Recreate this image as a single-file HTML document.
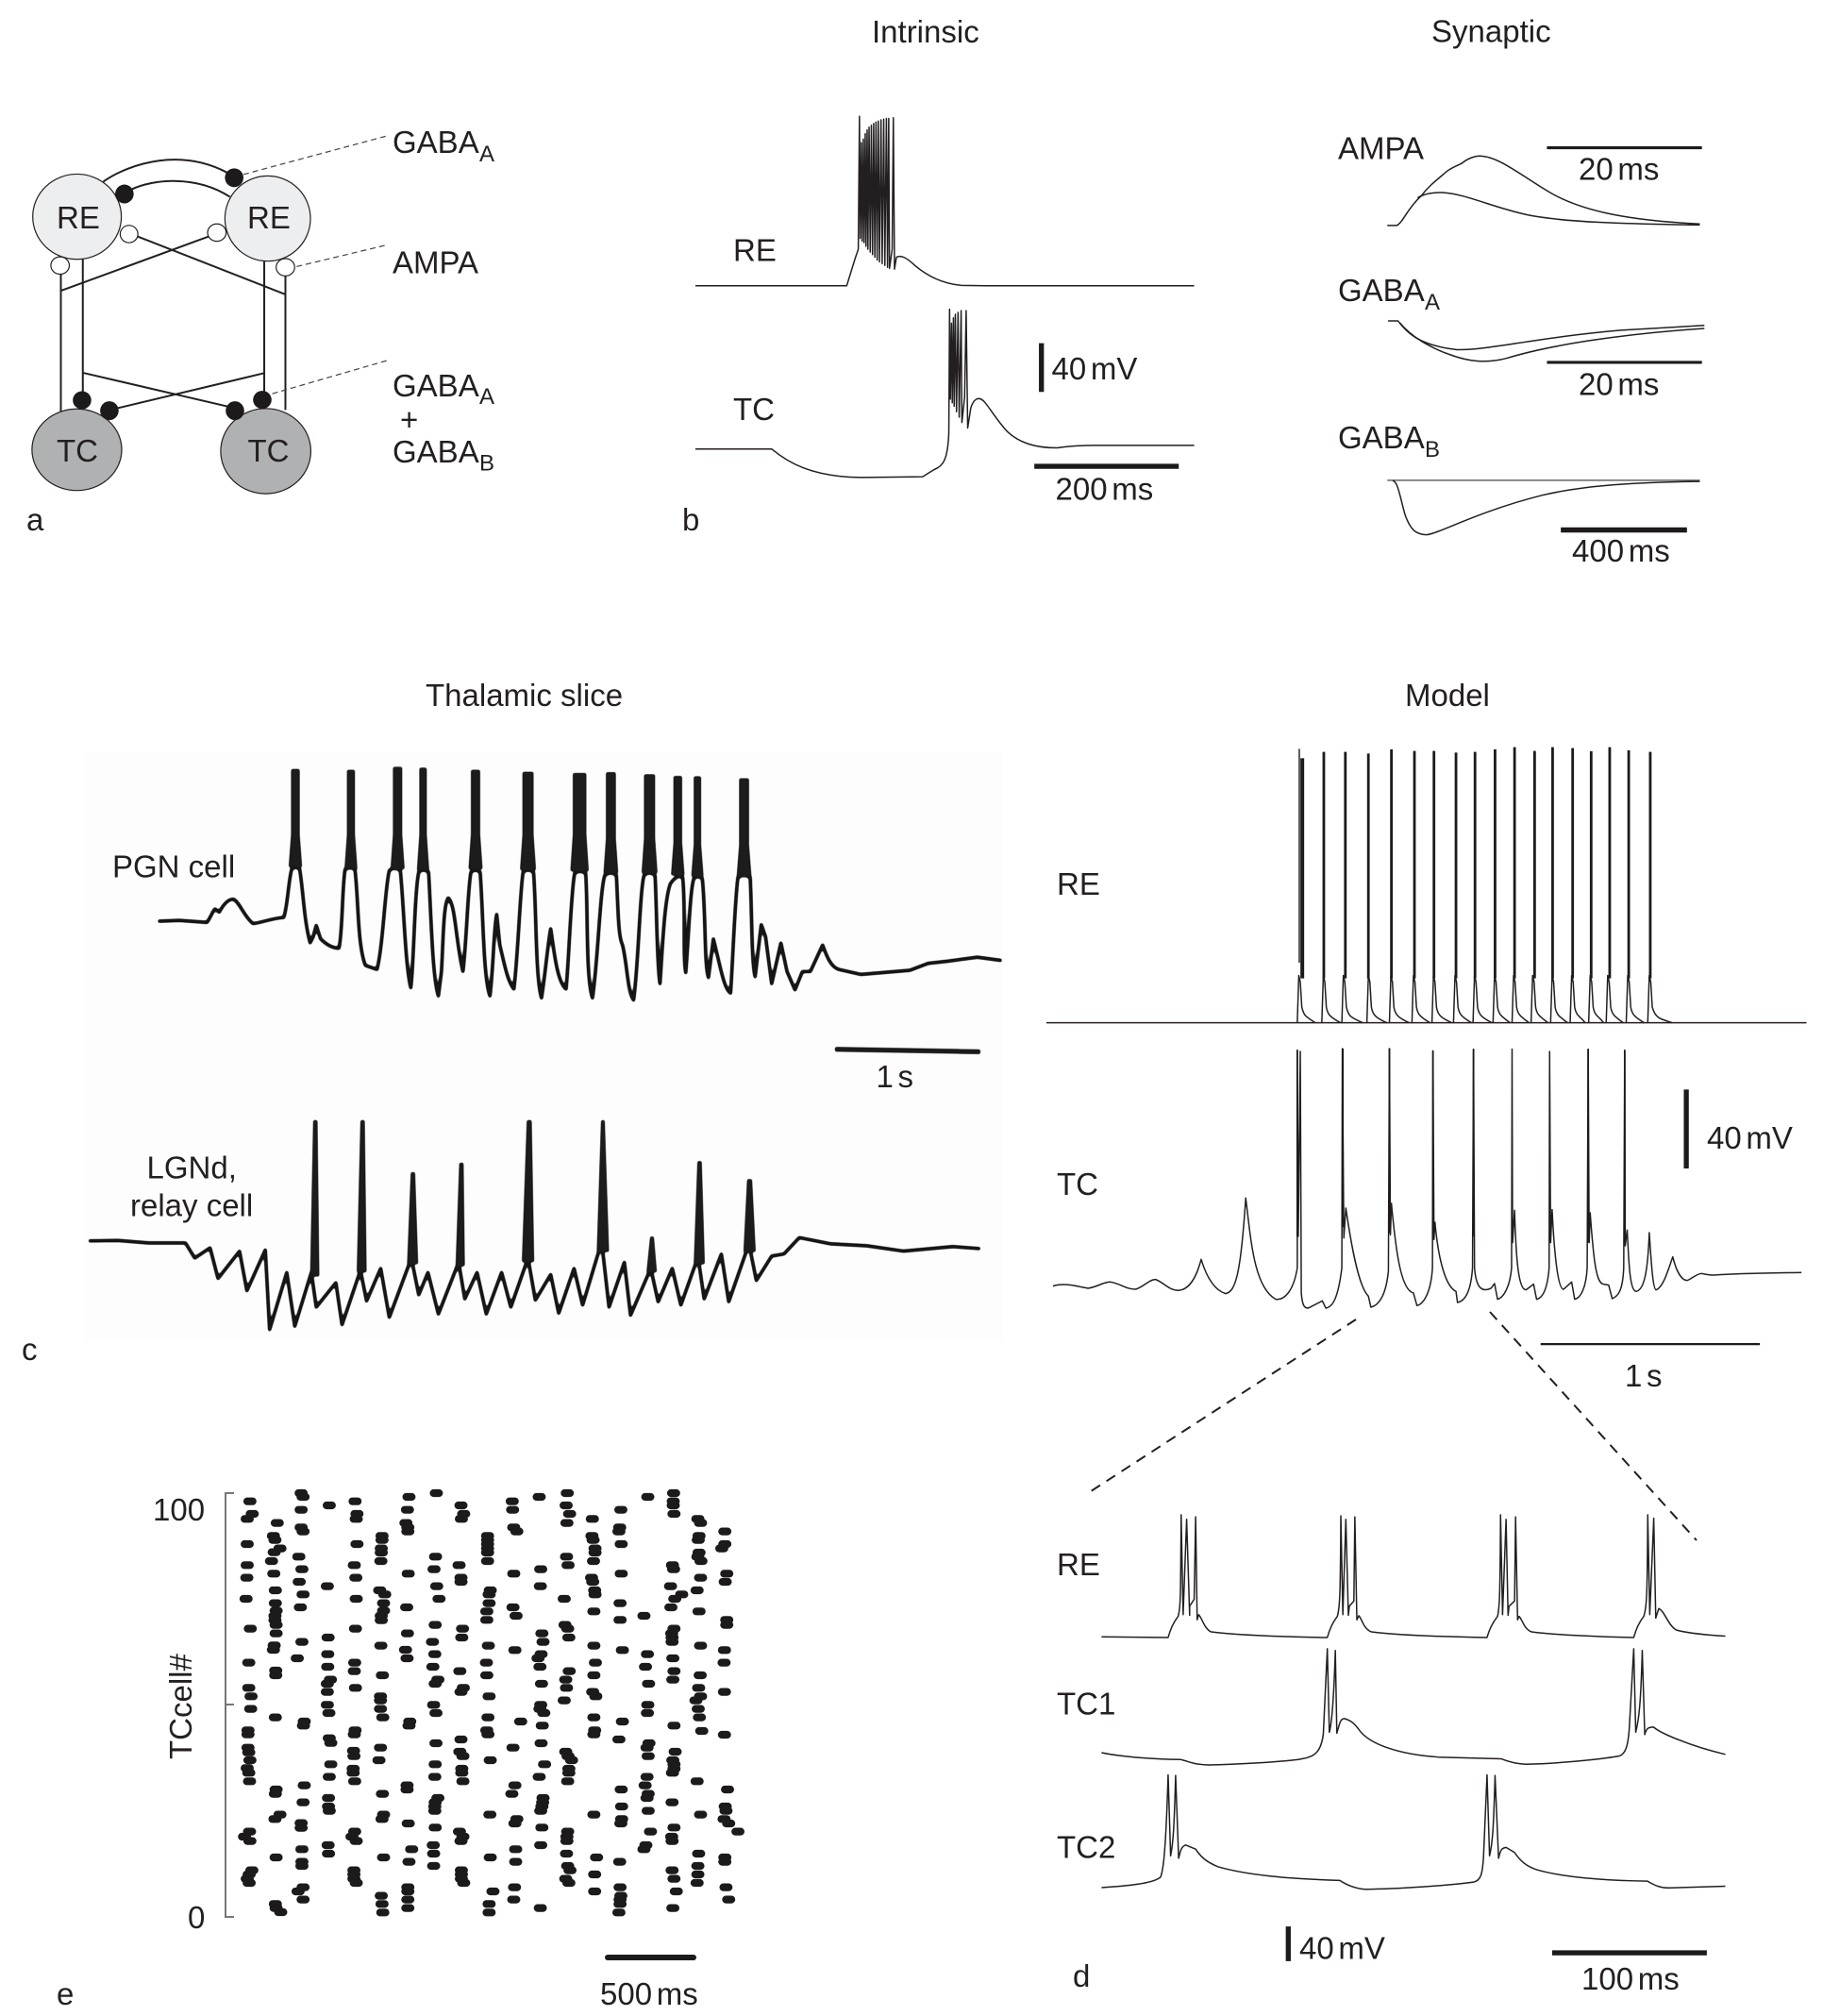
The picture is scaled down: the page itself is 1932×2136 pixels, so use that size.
<!DOCTYPE html>
<html><head><meta charset="utf-8"><title>Thalamic oscillation figure</title>
<style>
html,body{margin:0;padding:0;background:#fff}
svg{display:block}
text{font-family:"Liberation Sans",sans-serif;font-size:33px;fill:#231f20;word-spacing:-4.5px}
text.s{font-size:24px}
text.w{word-spacing:0}
path,line,ellipse{vector-effect:non-scaling-stroke}
.t{fill:none;stroke:#231f20;stroke-width:1.5;stroke-linejoin:round}
.k{fill:#1c1a1b;stroke:none}
.l{fill:none;stroke:#231f20;stroke-width:2}
.d{fill:none;stroke:#444;stroke-width:1.2;stroke-dasharray:6 4}
.r{fill:none;stroke:#1c1a1b;stroke-width:8.2;stroke-linecap:round}
</style></head><body>
<svg xmlns="http://www.w3.org/2000/svg" width="1932" height="2136" viewBox="0 0 1932 2136">
<defs><filter id="ink" x="-2%" y="-2%" width="104%" height="104%"><feGaussianBlur stdDeviation="1"/><feComponentTransfer><feFuncA type="linear" slope="3" intercept="-0.9"/></feComponentTransfer></filter></defs>
<rect width="1932" height="2136" fill="#fff"/>

<!-- panel a -->
<g transform="translate(0,0) scale(.4082,.3827)">
<path class="l" d="M268 503C340 450 470 410 590 478M340 525C400 495 510 485 597 545M158 758V1140M215 718V1085M686 724V1085M741 763V1135M358 655L741 815M541 655L158 805M215 1032L590 1125M686 1033L305 1130"/>
<path class="d" d="M632 483L1002 377M770 738L1005 678M707 1090L1005 998"/>
<ellipse cx="200" cy="600" rx="115" ry="118" fill="#eceef0" stroke="#231f20" stroke-width="1.2"/>
<ellipse cx="695" cy="605" rx="111" ry="118" fill="#eceef0" stroke="#231f20" stroke-width="1.2"/>
<ellipse cx="199.5" cy="1245" rx="116.5" ry="113" fill="#b0b1b3" stroke="#231f20" stroke-width="1.2"/>
<ellipse cx="690" cy="1249" rx="117" ry="118" fill="#b0b1b3" stroke="#231f20" stroke-width="1.2"/>
<g class="k">
<ellipse cx="608" cy="492" rx="24" ry="26"/><ellipse cx="323" cy="537" rx="24" ry="26"/>
<ellipse cx="213" cy="1108" rx="24" ry="25"/><ellipse cx="284" cy="1137" rx="24" ry="26"/>
<ellipse cx="610" cy="1137" rx="24" ry="26"/><ellipse cx="681" cy="1107" rx="24" ry="25"/>
</g>
<g fill="#fff" stroke="#231f20" stroke-width="1.2">
<ellipse cx="335" cy="648" rx="23" ry="24"/><ellipse cx="563" cy="644" rx="24" ry="24"/>
<ellipse cx="156" cy="735" rx="24" ry="24"/><ellipse cx="741" cy="740" rx="24" ry="24"/>
</g>
</g>
<text x="60" y="242">RE</text><text x="262" y="242">RE</text>
<text x="60" y="489">TC</text><text x="262.5" y="489">TC</text>
<text x="416" y="162">GABA</text><text class="s" x="508" y="171">A</text>
<text x="416" y="289.5">AMPA</text>
<text x="416" y="420">GABA</text><text class="s" x="508" y="428">A</text>
<text x="424" y="456">+</text>
<text x="416" y="490">GABA</text><text class="s" x="508" y="498.5">B</text>
<text x="28" y="562">a</text>

<!-- panel b intrinsic -->
<g transform="translate(700.2,0) scale(.4082,.3827)">
<path class="t" d="M90 791H483L505 715L513 690L516 322L518 660L521 395L523 668L526 385L528 672L531 370L533 682L536 360L538 690L541 352L544 698L547 347L550 705L553 342L556 712L559 338L562 720L565 335L568 725L572 332L575 730L579 330L582 735L586 328L589 740L592 328L594 743L601 690L604 326L607 745L612 712C625 705 640 715 660 735C690 762 730 785 780 790L845 791H1385"/>
<path class="t" d="M90 1243H288C330 1280 390 1320 520 1322L680 1320L710 1300C735 1290 745 1270 748 1200L750 856L752 1105L755 895L757 1115L760 880L762 1125L765 870L768 1140L772 865L775 1155L780 860L782 1170L789 1100L793 860L797 1185L805 1130C812 1105 825 1095 840 1112C855 1130 870 1160 900 1195C930 1225 970 1240 1030 1240C1060 1235 1100 1233 1130 1233H1385"/>
<path class="k" d="M982 950H995V1085H982ZM970 1284H1345V1298H970Z"/>
</g>
<text x="924" y="45">Intrinsic</text>
<text x="777" y="276.5">RE</text><text x="777" y="445">TC</text>
<text x="723" y="562">b</text>
<text x="1114.5" y="402">40 mV</text><text x="1118.5" y="529.5">200 ms</text>

<!-- synaptic -->
<g transform="translate(1340,0) scale(.3776,.3954)">
<path class="t" d="M345 604H372C390 595 400 560 440 525C460 500 480 485 505 465C520 450 540 445 555 437C570 425 590 418 605 418C660 420 720 470 800 515C880 560 1000 590 1222 600"/>
<path class="t" d="M430 530C450 518 480 515 500 516C570 520 650 560 750 578C850 595 1000 600 1222 603"/>
<path class="t" d="M347 860H375C400 890 430 925 540 937C620 940 760 905 1000 885L1235 872"/>
<path class="t" d="M380 865C410 900 460 930 520 950C570 968 620 975 680 960C800 925 1000 895 1235 880"/>
<path class="t" d="M345 1287H1222" style="stroke:#666"/>
<path class="t" d="M360 1288C375 1290 380 1330 395 1380C410 1420 425 1432 455 1433C490 1430 600 1370 780 1327C900 1300 1050 1292 1222 1290"/>
<path class="k" d="M793 392H1228V400H793ZM793 967H1228V975H793ZM832 1413H1186V1427H832Z"/>
</g>
<text x="1517" y="44.5">Synaptic</text>
<text x="1418" y="168.5">AMPA</text><text x="1673" y="190.5">20 ms</text>
<text x="1418" y="319">GABA</text><text class="s" x="1510" y="328">A</text><text x="1673" y="418.5">20 ms</text>
<text x="1418" y="475">GABA</text><text class="s" x="1510" y="484">B</text><text x="1666" y="595">400 ms</text>

<!-- panel c -->
<text class="w" x="451" y="748">Thalamic slice</text>
<text x="1489" y="748">Model</text>
<rect x="89" y="797" width="973" height="625" fill="#fdfdfd"/>
<g filter="url(#ink)">
<g transform="translate(60,780) scale(.6505,.4337)">
<path class="t" style="stroke-width:3.6;stroke:#141213" d="M165 452L200 450L245 455C252 440 255 425 258 422L265 430C272 410 280 398 288 398C298 405 305 440 320 458C335 455 350 445 370 443C376 420 378 350 383 325Q389 315 396 325C402 380 403 450 413 505L418 490L423 462L430 495C440 510 450 518 460 518C466 480 465 370 470 325Q478 318 486 325C492 400 490 510 503 560L522 570C532 510 535 370 542 328Q550 318 560 328C566 420 568 560 577 615C582 560 583 380 590 332Q597 322 606 332C610 430 612 590 622 635L627 575C630 500 630 410 638 395C650 410 650 500 662 575C668 500 670 370 675 332Q682 322 690 332C695 430 695 590 706 635C712 560 712 470 717 435L722 510C730 560 735 600 745 618C752 530 755 380 760 332Q768 322 777 332C782 430 780 590 790 640C797 570 800 510 805 470C810 520 815 600 830 618C835 540 838 380 844 335Q852 325 862 335C866 430 862 590 873 640C882 550 885 380 893 340Q903 328 912 340C915 430 915 490 922 510C930 560 930 625 940 645C948 560 950 380 957 340Q966 328 975 340C978 430 978 560 983 605C987 520 990 400 1000 360Q1012 335 1020 345C1025 420 1020 540 1025 578C1030 480 1032 380 1038 348Q1044 338 1052 348C1058 440 1055 560 1062 590L1070 495L1078 545C1085 590 1090 620 1098 628C1102 540 1105 400 1110 345Q1120 335 1130 345C1133 440 1132 550 1138 588L1148 460L1155 490L1165 605L1180 505L1190 575L1203 620L1215 575L1228 575L1248 510C1255 540 1262 565 1275 570L1310 582L1390 572L1420 555L1450 550L1500 540L1540 548"/>
<path class="k" d="M382 80H396V240L400 320H378L382 240ZM473 82H486V240L490 325H469L473 240ZM548 75H563V240L567 325H544L548 240ZM591 77H603V240L607 328H587L591 240ZM675 82H690V240L694 325H671L675 240ZM759 87H777V240L781 327H755L759 240ZM841 90H863V240L867 330H837L841 240ZM895 88H911V250L915 335H891L895 250ZM957 93H975V250L979 335H953L957 250ZM1005 97H1019V260L1023 340H1001L1005 260ZM1038 98H1050V265L1054 343H1034L1038 265ZM1112 103H1128V265L1132 342H1108L1112 265Z"/>
<path class="t" style="stroke-width:3.6;stroke:#141213" d="M52 1233L100 1232L150 1238L210 1238L225 1275L250 1250L263 1325L298 1258L310 1355L340 1255L347 1450L375 1310L388 1442L415 1310L423 1395L455 1335L465 1438L495 1305L505 1380L528 1300L542 1420L578 1275L590 1365L605 1310L622 1412L655 1285L665 1375L685 1310L700 1412L725 1310L740 1395L768 1275L780 1378L805 1315L818 1410L843 1300L857 1390L888 1235L900 1395L925 1285L935 1415L968 1300L980 1382L1003 1300L1017 1390L1045 1272L1055 1375L1083 1265L1095 1382L1128 1240L1140 1330L1165 1270L1185 1265L1210 1225L1260 1240L1320 1245L1380 1258L1460 1247L1505 1252"/>
<path class="k" d="M418 938H425L428 1320H413ZM495 938H502L505 1310H489ZM577 1065H584L589 1290H571ZM656 1042H663L665 1295H650ZM766 938H774L778 1285H758ZM887 938H893L900 1260H880ZM967 1222H973L978 1310H961ZM1044 1038H1051L1056 1290H1038ZM1125 1082H1133L1139 1260H1119Z"/>
<path d="M1268 765L1505 771" fill="none" stroke="#1c1a1b" stroke-width="5"/>
</g>
</g>
<text class="w" x="119" y="929.5">PGN cell</text>
<text x="155.5" y="1248.5">LGNd,</text><text class="w" x="138" y="1288.5">relay cell</text>
<text x="928.5" y="1152">1 s</text>
<text x="23" y="1441">c</text>

<!-- model RE -->
<g transform="translate(1100,780) scale(.5306,.3333)">
<path class="t" d="M17 911H1535"/>
<path class="t" d="M518 911l3-150 3 20 3 80q3 22 9 30t18 20M567 911l3-150 3 20 3 80q2 20 9 30t20 20M607 911l3-150 3 20 3 80q3 22 9 30t24 20M657 911l3-150 3 20 3 80q2 20 9 30t22 20M702 911l3-150 3 20 3 80q2 20 9 30t22 20M747 911l3-150 3 20 3 80q2 20 9 30t18 20M787 911l3-150 3 20 3 80q2 20 9 30t22 20M830 911l3-150 3 20 3 80q2 20 9 30t18 20M869 911l3-150 3 20 3 80q2 20 9 30t20 20M909 911l3-150 3 20 3 80q2 20 9 30t16 20M947 911l3-150 3 20 3 80q2 20 9 30t16 20M985 911l3-150 3 20 3 80q2 20 9 30t16 20M1024 911l3-150 3 20 3 80q2 20 9 30t16 20M1063 911l3-150 3 20 3 80q2 20 9 30t12 20M1100 911l3-150 3 20 3 80q2 20 9 30t12 20M1135 911l3-150 3 20 3 80q2 20 9 30t16 20M1175 911l3-150 3 20 3 80q2 20 9 30t18 20M1218 911l3-150 3 20 3 80q5 30 18 38t22 12"/>
<path fill="none" stroke="#1c1a1b" stroke-width="2.8" d="M571 50V770M614 50V770M660 55V770M706 42V770M752 47V770M791 47V770M835 52V770M873 50V770M913 42V770M952 35V770M992 47V770M1028 35V770M1068 38V770M1105 48V770M1142 35V770M1180 45V770M1223 50V770"/>
<path fill="none" stroke="#1c1a1b" stroke-width="1.4" d="M522 40V720"/>
<path fill="none" stroke="#1c1a1b" stroke-width="4" d="M528 70V770"/>
</g>
<text x="1120" y="948">RE</text>

<!-- model TC -->
<g transform="translate(1100,1110) scale(.5306,.3333)">
<path class="t" d="M30 758C50 748 70 755 100 765C120 760 130 745 145 745C165 750 175 768 195 768C210 762 222 737 235 737C250 745 260 770 280 772C300 770 315 740 326 673C335 720 350 770 375 782C395 775 405 720 415 478C425 600 430 760 475 800C490 803 510 780 518 700L518 8L520 600L524 12L526 780C528 820 532 828 540 828L568 805L575 828C590 825 600 790 607 700L608 3L611 605L615 510C625 620 640 760 660 790L665 825C680 820 695 790 700 710L702 3L704 595L706 495C715 650 725 770 750 780L757 820C770 815 785 780 788 700L789 10L791 610L793 555C800 680 815 760 835 775L838 810C855 805 865 770 868 700L870 5L872 700C875 760 885 780 905 765L912 750L918 800C930 795 943 760 946 700L947 5L948 620L952 517C955 680 960 770 975 770L990 752L996 800C1010 795 1018 760 1021 700L1022 12L1024 620L1027 515C1032 680 1040 770 1050 768L1066 745L1072 800C1085 795 1095 760 1097 700L1099 5L1101 620L1103 525C1110 680 1115 750 1130 752L1140 755L1147 798C1160 790 1168 770 1170 700L1172 8L1173 630L1177 580C1180 680 1182 775 1195 775C1210 770 1218 720 1221 588C1225 680 1228 770 1235 770C1250 760 1260 700 1268 665C1275 710 1285 740 1297 740C1305 735 1315 720 1325 718C1340 722 1345 725 1360 722C1400 718 1450 716 1525 715"/>
<path fill="none" stroke="#1c1a1b" stroke-width="1.8" d="M518 8V600M609 3V570M702 3V590M789 10V600M870 5V600M1099 5V620M1172 8V620"/>
<path class="k" d="M1290 133H1300V384H1290ZM1004 939H1442V946H1004Z"/>
</g>
<text x="1120" y="1266">TC</text>
<text x="1809" y="1217">40 mV</text>
<text x="1722" y="1469">1 s</text>
<path d="M1437 1398L1153 1582M1579 1390L1798 1632" fill="none" stroke="#231f20" stroke-width="2" stroke-dasharray="11 8"/>

<!-- panel d -->
<g transform="translate(1100,1570) scale(.5306,.361)">
<path class="t" d="M127 455L260 457C265 430 272 410 280 395C285 370 285 340 286 97L290 390L297 110L303 392L303 365L312 345L315 103L318 405L321 390C328 400 332 430 345 440C380 448 480 455 578 457C583 430 590 410 598 395C603 370 604 340 605 100L609 390L615 110L620 392L622 365L631 350L633 103L637 405L641 393C648 405 650 430 665 440C700 448 800 455 897 457C902 430 910 410 918 395C922 370 923 340 924 97L928 390L935 110L939 392L941 365L952 350L954 103L958 405L961 395C968 405 970 430 985 440C1020 448 1120 455 1190 457C1195 430 1202 410 1210 395C1216 370 1217 340 1218 97L1222 390L1230 107L1234 400L1240 372C1252 380 1258 420 1275 435C1300 445 1340 450 1373 453"/>
<path class="t" d="M127 795C170 808 240 815 285 815C300 820 310 830 340 831C400 830 480 822 520 815C550 808 565 800 570 740L578 490L582 735C585 720 590 680 594 495L597 738C603 705 605 695 612 695C625 700 632 710 640 725C660 770 720 800 800 808L925 813C940 822 955 828 975 829C1040 827 1120 815 1160 805C1175 800 1180 770 1182 700L1190 490L1194 735C1200 700 1204 660 1207 495L1212 742C1215 725 1218 720 1230 720C1240 735 1300 775 1373 800"/>
<path class="t" d="M127 1191C170 1187 230 1180 245 1160C250 1140 255 1100 260 860L265 1098C270 1060 272 1020 275 862L281 1105C285 1080 287 1070 295 1066L315 1078C325 1100 335 1115 360 1130C420 1155 500 1165 603 1170C615 1182 635 1195 655 1196C720 1195 820 1185 870 1175C885 1170 888 1150 890 1100L897 860L902 1098C908 1060 910 1020 913 862L920 1105C924 1080 926 1075 935 1073L952 1088C962 1110 975 1130 1000 1140C1050 1160 1120 1170 1217 1172C1230 1182 1240 1192 1260 1192L1373 1187"/>
<path class="k" d="M495 1305H505V1407H495ZM1027 1375H1336V1390H1027Z"/>
</g>
<text x="1120" y="1669">RE</text><text x="1120" y="1816.5">TC1</text><text x="1120" y="1968.5">TC2</text>
<text x="1377" y="2075.5">40 mV</text><text x="1676" y="2108">100 ms</text>
<text x="1137" y="2105">d</text>

<!-- panel e -->
<path d="M248 1582H239V2031H248M239 1806H248" fill="none" stroke="#777" stroke-width="2"/>
<text x="162" y="1611">100</text><text x="199" y="2043">0</text>
<text transform="translate(203,1864) rotate(-90)" x="0" y="0">TCcell#</text>
<path d="M644 2074H735" fill="none" stroke="#1c1a1b" stroke-width="6" stroke-linecap="round"/>
<text x="636" y="2124">500 ms</text>
<text x="60" y="2124">e</text>
<g transform="translate(157.1,1560) scale(.4082,.3333)">
<path class="r" d="M257 92h14M263 132h14M250 148h14M250 228h14M250 295h14M249 335h14M247 402h14M258 497h14M254 605h14M254 685h14M260 712h14M259 752h14M252 820h14M252 833h14M328 161h14M318 202h14M322 215h14M335 242h14M320 254h14M313 282h14M319 322h14M323 375h14M323 416h14M325 440h14M322 456h14M322 470h14M325 485h14M325 512h14M320 550h14M318 564h14M324 630h14M324 645h14M323 779h14M390 66h14M395 78h14M390 119h14M390 175h14M395 188h14M384 268h14M392 308h14M385 348h14M395 388h14M388 429h14M392 539h14M380 591h14M398 792h14M396 805h14M463 105h14M458 362h14M460 525h14M459 578h14M459 618h14M466 659h14M458 672h14M458 698h14M458 739h14M462 765h14M530 92h14M535 132h14M533 148h14M535 228h14M528 295h14M532 335h14M533 402h14M531 497h14M529 605h14M528 632h14M531 685h14M530 820h14M528 833h14M600 202h14M600 215h14M598 242h14M598 255h14M597 282h14M594 375h14M607 388h14M604 416h14M604 440h14M598 456h14M598 470h14M597 551h14M601 645h14M596 712h14M596 725h14M596 752h14M602 779h14M670 78h14M666 119h14M662 161h14M667 175h14M667 188h14M668 322h14M664 429h14M666 512h14M661 564h14M665 591h14M672 792h14M670 805h14M741 66h14M739 268h14M735 308h14M742 362h14M748 402h14M738 485h14M731 539h14M737 578h14M732 618h14M745 659h14M738 672h14M734 739h14M740 765h14M805 105h14M812 132h14M806 148h14M800 295h14M805 335h14M805 348h14M809 497h14M807 525h14M802 632h14M811 685h14M805 698h14M874 202h14M874 215h14M874 228h14M874 242h14M874 255h14M874 282h14M881 375h14M878 388h14M878 416h14M872 442h14M872 469h14M876 551h14M871 605h14M872 645h14M878 712h14M875 779h14M872 820h14M875 833h14M938 92h14M939 119h14M942 175h14M950 188h14M942 322h14M940 429h14M948 456h14M945 565h14M960 792h14M1008 78h14M1012 308h14M1011 362h14M1015 512h14M1018 539h14M1013 578h14M1005 591h14M1010 618h14M1014 672h14M1012 739h14M1010 752h14M1020 765h14M1016 805h14M1081 66h14M1078 105h14M1087 132h14M1080 161h14M1079 268h14M1083 295h14M1073 402h14M1075 485h14M1082 497h14M1085 525h14M1086 632h14M1077 659h14M1079 685h14M1073 725h14M1146 148h14M1145 202h14M1148 215h14M1153 242h14M1153 255h14M1149 282h14M1144 335h14M1147 348h14M1152 375h14M1153 388h14M1150 442h14M1150 551h14M1154 605h14M1150 645h14M1147 698h14M1155 712h14M1150 779h14M1152 820h14M1150 833h14M1220 119h14M1217 175h14M1215 188h14M1221 228h14M1221 322h14M1218 416h14M1218 469h14M1224 565h14M1224 792h14M1290 78h14M1280 456h14M1289 578h14M1284 618h14M1292 672h14M1290 739h14M1289 765h14M1357 66h14M1356 92h14M1356 105h14M1358 132h14M1354 295h14M1357 308h14M1349 362h14M1378 388h14M1360 402h14M1350 429h14M1358 497h14M1352 512h14M1353 525h14M1353 539h14M1355 591h14M1358 632h14M1355 659h14M1358 805h14M1420 148h14M1427 161h14M1423 202h14M1421 215h14M1423 255h14M1420 268h14M1428 282h14M1427 335h14M1418 375h14M1423 442h14M1427 551h14M1426 645h14M1422 685h14M1427 712h14M1415 725h14M1421 752h14M1424 779h14M1430 822h14M1490 188h14M1490 228h14M1482 242h14M1495 322h14M1491 348h14M1495 469h14M1495 485h14M1489 565h14M1488 605h14M1489 698h14M1489 834h14"/>
</g>
<g transform="translate(157.1,1840) scale(.4082,.3333)">
<path class="r" d="M252 35h14M254 50h14M257 75h14M250 100h14M254 115h14M256 142h14M256 302h14M243 318h14M257 332h14M262 425h14M255 438h14M250 452h14M255 465h14M325 168h14M323 182h14M335 248h14M322 262h14M325 384h14M323 532h14M325 545h14M337 558h14M398 155h14M395 209h14M390 275h14M390 290h14M392 358h14M392 398h14M392 411h14M395 479h14M382 492h14M395 518h14M463 5h14M467 20h14M467 88h14M463 128h14M461 195h14M461 222h14M463 236h14M460 345h14M461 372h14M526 45h14M527 62h14M525 102h14M525 115h14M529 142h14M529 302h14M522 318h14M533 332h14M527 425h14M527 438h14M527 452h14M533 465h14M596 35h14M592 75h14M601 182h14M604 248h14M600 262h14M604 384h14M598 506h14M600 532h14M602 559h14M665 155h14M665 168h14M668 276h14M677 358h14M670 398h14M667 479h14M667 492h14M667 518h14M667 545h14M740 21h14M738 88h14M737 128h14M745 195h14M738 209h14M737 222h14M737 236h14M738 289h14M733 345h14M734 372h14M734 411h14M805 9h14M802 48h14M810 62h14M807 102h14M807 115h14M810 142h14M801 302h14M810 318h14M805 332h14M806 425h14M806 438h14M806 452h14M812 465h14M881 75h14M880 248h14M881 384h14M888 492h14M878 532h14M878 559h14M940 35h14M945 155h14M937 182h14M950 262h14M945 276h14M947 358h14M947 398h14M944 479h14M942 518h14M1013 21h14M1022 88h14M1008 128h14M1018 195h14M1017 209h14M1015 222h14M1012 236h14M1015 289h14M1012 345h14M1011 545h14M1077 48h14M1083 62h14M1092 75h14M1085 102h14M1085 115h14M1082 142h14M1082 302h14M1080 318h14M1080 332h14M1079 372h14M1082 411h14M1088 425h14M1077 452h14M1085 465h14M1150 248h14M1157 384h14M1152 438h14M1152 492h14M1215 9h14M1221 168h14M1222 222h14M1222 262h14M1220 276h14M1217 398h14M1218 479h14M1220 506h14M1218 518h14M1218 532h14M1215 559h14M1293 21h14M1288 35h14M1291 62h14M1288 128h14M1283 155h14M1291 182h14M1288 195h14M1291 236h14M1297 302h14M1285 345h14M1280 358h14M1361 48h14M1355 75h14M1358 88h14M1358 102h14M1354 115h14M1353 209h14M1358 289h14M1352 318h14M1353 332h14M1353 425h14M1358 452h14M1364 492h14M1355 545h14M1418 142h14M1427 248h14M1422 372h14M1420 411h14M1420 438h14M1418 465h14M1497 168h14M1491 222h14M1493 236h14M1488 262h14M1500 276h14M1524 302h14M1490 384h14M1490 398h14M1493 479h14M1500 518h14"/>
</g>
</svg>
</body></html>
